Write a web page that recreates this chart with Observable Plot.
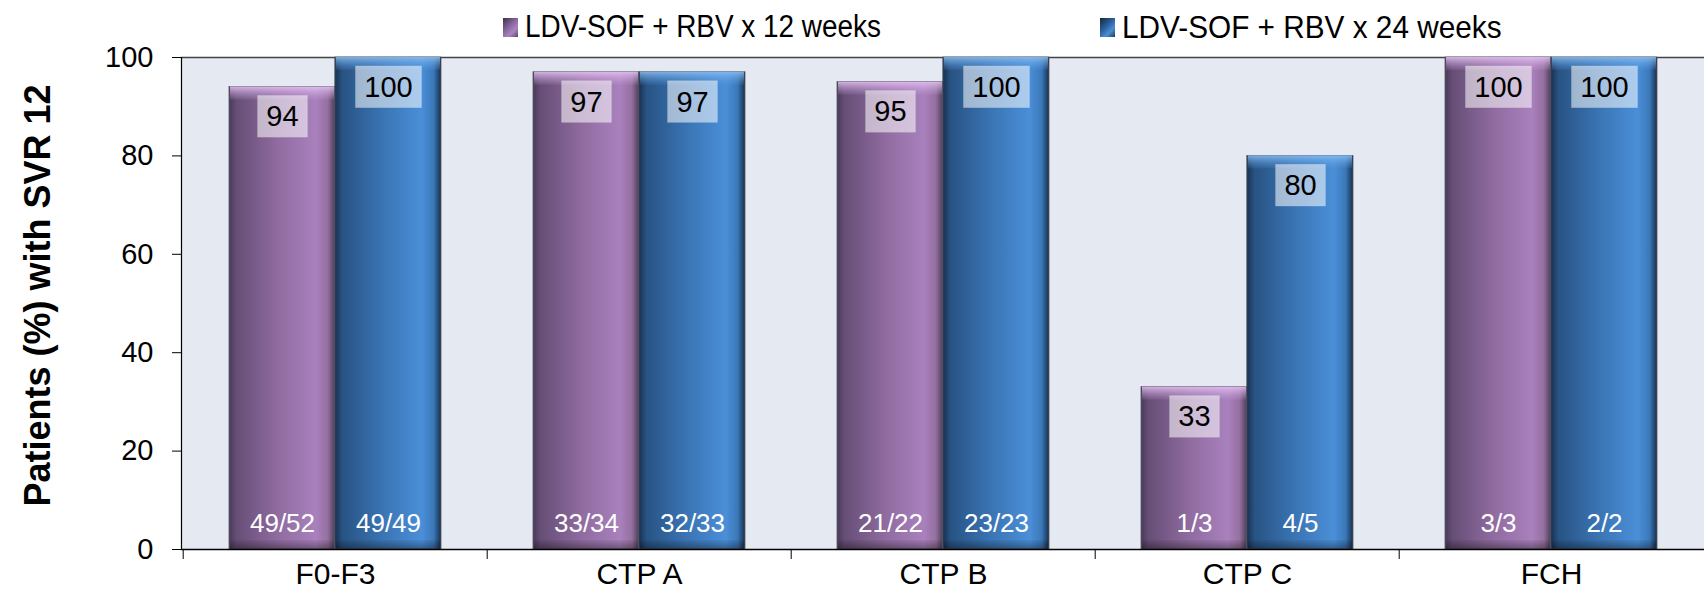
<!DOCTYPE html>
<html>
<head>
<meta charset="utf-8">
<script src="https://cdn.jsdelivr.net/npm/d3@7"></script>
<script src="https://cdn.jsdelivr.net/npm/@observablehq/plot@0.6"></script>
<style>
  html, body { margin: 0; padding: 0; background: #fff; }
  #wrap { position: relative; width: 1704px; height: 592px; font-family: "Liberation Sans", Arial, sans-serif; }
  #legend { position: absolute; top: 2px; left: 0; width: 1704px; height: 50px; }
  .item { position: absolute; top: 0; height: 50px; display: flex; align-items: center; color: #000; white-space: nowrap; }
  .sw { width: 15px; height: 19px; margin-right: 7px; }
  .lt { display: inline-block; transform-origin: left center; }
  #chart { position: absolute; top: 0; left: 0; }
</style>
</head>
<body>
<div id="wrap">
  <div id="chart"></div>
  <div id="legend"></div>
</div>
<script>
const categories = ["F0-F3", "CTP A", "CTP B", "CTP C", "FCH"];
const seriesNames = ["LDV-SOF + RBV x 12 weeks", "LDV-SOF + RBV x 24 weeks"];
const svr12 = [94, 97, 95, 33, 100];
const svr24 = [100, 97, 100, 80, 100];
const counts12 = ["49/52", "33/34", "21/22", "1/3", "3/3"];
const counts24 = ["49/49", "32/33", "23/23", "4/5", "2/2"];
const yTicks = [0, 20, 40, 60, 80, 100];
const yLabel = "Patients (%) with SVR 12";

const d12 = categories.map((c, i) => ({cat: c, value: svr12[i], n: counts12[i]}));
const d24 = categories.map((c, i) => ({cat: c, value: svr24[i], n: counts24[i]}));

const W = 1704, H = 592, ML = 181, MR = 0, MT = 57, MB = 43;
const band = (W - ML - MR) / categories.length;
const off = band * 0.174;

// bar geometry as insets within each band
const p = {insetLeft: band * 0.151, insetRight: band * 0.5 - 0.5};
const b = {insetLeft: band * 0.5 - 0.5, insetRight: band * 0.151};

function bars(data, opt, grad, bevel) {
  return [
    Plot.barY(data, {x: "cat", y: "value", fill: grad, stroke: "#5a5a66", strokeWidth: 0.8, ...opt}),
    Plot.barY(data, {x: "cat", y1: "value", y2: "value", insetBottom: -13, fill: bevel, ...opt, insetLeft: opt.insetLeft + 1, insetRight: opt.insetRight + 1}),
    Plot.barY(data, {x: "cat", y1: 0, y2: 0, insetTop: -9, fill: "url(#bottomShade)", ...opt, insetLeft: opt.insetLeft + 1, insetRight: opt.insetRight + 1})
  ];
}

const chart = Plot.plot({
  width: W, height: H,
  marginLeft: ML, marginRight: MR, marginTop: MT, marginBottom: MB,
  style: {fontFamily: "'Liberation Sans', Arial, sans-serif", fontSize: "28px", background: "transparent", color: "#000"},
  x: {domain: categories, padding: 0, label: null},
  y: {domain: [0, 100], label: null},
  marks: [
    Plot.frame({fill: "#e5e9f2", stroke: null}),
    Plot.frame({anchor: "top", stroke: "#444", strokeWidth: 1.5}),
    ...bars(d12, p, "url(#gradP)", "url(#bevelP)"),
    ...bars(d24, b, "url(#gradB)", "url(#bevelB)"),
    Plot.text(d12, {x: "cat", y: "value", text: d => String(d.value), dx: -off, dy: 30, fill: "#000", fontSize: 29, className: "vlabel"}),
    Plot.text(d24, {x: "cat", y: "value", text: d => String(d.value), dx: off, dy: 30, fill: "#000", fontSize: 29, className: "vlabel"}),
    Plot.text(d12, {x: "cat", y: 0, text: "n", dx: -off, dy: -26, fill: "#fff", fontSize: 26}),
    Plot.text(d24, {x: "cat", y: 0, text: "n", dx: off, dy: -26, fill: "#fff", fontSize: 26}),
    Plot.axisY({ticks: yTicks, tickSize: 9, tickPadding: 19, fontSize: 29, label: null, stroke: "#000"}),
    Plot.axisX({tickSize: 0, tickPadding: 13, fontSize: 30, label: null}),
    Plot.axisX({ticks: categories, tickSize: 10, text: null, dx: -band / 2, label: null, stroke: "#000"}),
    Plot.frame({anchor: "left", stroke: "#000", strokeWidth: 1.2}),
    Plot.ruleY([0], {stroke: "#000", strokeWidth: 1.5}),
    Plot.text([yLabel], {frameAnchor: "left", textAnchor: "middle", dx: -143, dy: -8, rotate: -90, fontSize: 36, fontWeight: "bold", fill: "#000"})
  ]
});

const defs = document.createElementNS("http://www.w3.org/2000/svg", "defs");
defs.innerHTML = `
<linearGradient id="gradP" x1="0" x2="1" y1="0" y2="0">
  <stop offset="0" stop-color="#4a3a58"/>
  <stop offset="0.07" stop-color="#664e76"/>
  <stop offset="0.45" stop-color="#8f6b9f"/>
  <stop offset="0.82" stop-color="#a981bd"/>
  <stop offset="0.93" stop-color="#94709f"/>
  <stop offset="1" stop-color="#4c3b57"/>
</linearGradient>
<linearGradient id="gradB" x1="0" x2="1" y1="0" y2="0">
  <stop offset="0" stop-color="#17304d"/>
  <stop offset="0.07" stop-color="#285383"/>
  <stop offset="0.45" stop-color="#3a74b4"/>
  <stop offset="0.82" stop-color="#4a8fd8"/>
  <stop offset="0.93" stop-color="#3c78b8"/>
  <stop offset="1" stop-color="#172f4b"/>
</linearGradient>
<linearGradient id="bevelP" x1="0" x2="0" y1="0" y2="1">
  <stop offset="0" stop-color="#e8c6f5" stop-opacity="0.85"/>
  <stop offset="1" stop-color="#c9a2dc" stop-opacity="0.1"/>
</linearGradient>
<linearGradient id="bevelB" x1="0" x2="0" y1="0" y2="1">
  <stop offset="0" stop-color="#8cc0f4" stop-opacity="0.85"/>
  <stop offset="1" stop-color="#5a9ae0" stop-opacity="0.1"/>
</linearGradient>
<linearGradient id="bottomShade" x1="0" x2="0" y1="0" y2="1">
  <stop offset="0" stop-color="#000" stop-opacity="0.05"/>
  <stop offset="1" stop-color="#000" stop-opacity="0.35"/>
</linearGradient>`;
chart.insertBefore(defs, chart.firstChild);

document.getElementById("chart").appendChild(chart);

// semi-transparent boxes behind the value labels
const labelTexts = new Set();
chart.querySelectorAll(".vlabel").forEach(el => {
  if (el.tagName.toLowerCase() === "text") labelTexts.add(el);
  else el.querySelectorAll("text").forEach(t => labelTexts.add(t));
});
labelTexts.forEach(t => {
  const bb = t.getBBox();
  const r = document.createElementNS("http://www.w3.org/2000/svg", "rect");
  const padX = 9, padY = 6;
  r.setAttribute("x", bb.x - padX);
  r.setAttribute("y", bb.y - padY + 1);
  r.setAttribute("width", bb.width + 2 * padX);
  r.setAttribute("height", bb.height + 2 * padY - 2);
  r.setAttribute("fill", "#fff");
  r.setAttribute("fill-opacity", "0.55");
  if (t.getAttribute("transform")) r.setAttribute("transform", t.getAttribute("transform"));
  t.parentNode.insertBefore(r, t);
});

// legend
const legend = document.getElementById("legend");
const swatches = [
  "linear-gradient(135deg, #3d2f48 0%, #8a68a0 45%, #a985bd 70%, #5a456a 100%)",
  "linear-gradient(135deg, #12283f 0%, #2e62a0 45%, #4b8fd6 70%, #1d3a5c 100%)"
];
const lefts = [503, 1100];
const sizes = [31, 32];
const scales = [0.9, 0.93];
seriesNames.forEach((s, i) => {
  const it = document.createElement("div");
  it.className = "item";
  it.style.left = lefts[i] + "px";
  it.style.fontSize = sizes[i] + "px";
  const sw = document.createElement("div");
  sw.className = "sw";
  sw.style.background = swatches[i];
  const tx = document.createElement("span");
  tx.className = "lt";
  tx.style.transform = `scaleX(${scales[i]})`;
  tx.textContent = s;
  it.appendChild(sw);
  it.appendChild(tx);
  legend.appendChild(it);
});
</script>
</body>
</html>
